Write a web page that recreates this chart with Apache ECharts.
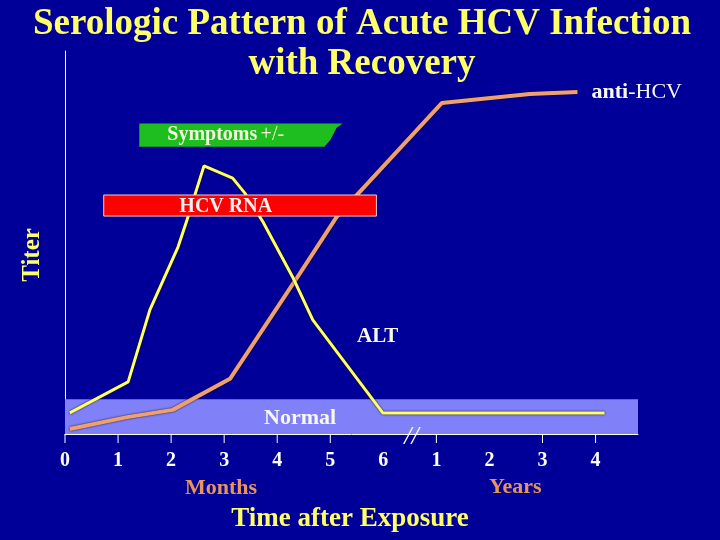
<!DOCTYPE html>
<html>
<head>
<meta charset="utf-8">
<script src="https://cdn.jsdelivr.net/npm/echarts@6/dist/echarts.min.js"></script>
<style>
html,body{margin:0;padding:0;background:#000099;}
#chart{width:720px;height:540px;}
</style>
</head>
<body>
<div id="chart"></div>
<script>
// ---- data ----
const tickLabels = ['0','1','2','3','4','5','6','1','2','3','4'];
const tickPositions = [0,1,2,3,4,5,7,9,10];
const altTime  = [0.09, 1.19, 1.60, 2.13, 2.30, 2.62, 3.16, 3.39, 3.73, 4.29, 4.67, 5.99, 10.17];
const altTiter = [5.5, 13.6, 32.4, 48.8, 55.9, 70.0, 66.8, 62.9, 55.4, 41.0, 29.8, 5.5, 5.5];
const antiTime  = [0.09, 1.17, 2.03, 3.11, 4.43, 5.12, 7.10, 8.76, 9.66];
const antiTiter = [1.3, 4.4, 6.3, 14.4, 42.0, 56.7, 86.4, 88.8, 89.3];
const symptomsTime = [1.40, 5.23];
const symptomsTiter = [75.0, 81.1];
const rnaTime = [0.73, 5.87];
const rnaTiter = [56.9, 62.4];
const normalTime = [0, 10.8];
const normalTiter = [0, 9.1];

const SERIF = "'Liberation Serif','DejaVu Serif',serif";
const chart = echarts.init(document.getElementById('chart'));

function zip(a, b){ return a.map((v,i)=>[v,b[i]]); }

function rectSeries(name, t, v, fill, stroke, z){
  return {
    type:'custom', name, z, silent:true, clip:false,
    data:[[t[0], t[1], v[0], v[1]]],
    renderItem(params, api){
      const p0 = api.coord([api.value(0), api.value(3)]);
      const p1 = api.coord([api.value(1), api.value(2)]);
      return {
        type:'rect',
        shape:{x:p0[0], y:p0[1], width:p1[0]-p0[0], height:p1[1]-p0[1]},
        style:{fill, stroke: stroke || null, lineWidth: stroke ? 1 : 0}
      };
    }
  };
}

const option = {
  backgroundColor:'#000099',
  animation:false,
  grid:{left:65, right:82, top:51, bottom:106},
  xAxis:{
    type:'value', min:0, max:10.8, interval:1,
    axisLine:{show:true, lineStyle:{color:'#ffffff', width:1}},
    axisTick:{show:false},
    splitLine:{show:false},
    axisLabel:{
      showMaxLabel:false,
      color:'#ffffff', fontFamily:SERIF, fontWeight:'bold', fontSize:20, margin:17,
      formatter(v){ return Number.isInteger(v) && tickLabels[v] !== undefined ? tickLabels[v] : ''; }
    }
  },
  yAxis:{
    type:'value', min:0, max:100,
    axisLine:{show:true, lineStyle:{color:'#ffffff', width:1}},
    axisTick:{show:false}, axisLabel:{show:false}, splitLine:{show:false}
  },
  series:[
    rectSeries('Normal', normalTime, normalTiter, '#8080f8', null, 1),
    {
      type:'custom', name:'ticks', silent:true, clip:false, z:3,
      data:tickPositions.map(t=>[t,0]),
      renderItem(params, api){
        const p = api.coord([api.value(0), 0]);
        return {type:'line', shape:{x1:p[0], y1:p[1], x2:p[0], y2:p[1]+9}, style:{stroke:'#ffffff', lineWidth:1}};
      }
    },
    {
      type:'custom', name:'break', silent:true, clip:false, z:3,
      data:[[6.53, 0]],
      renderItem(params, api){
        const p = api.coord([api.value(0), api.value(1)]);
        return {type:'text', style:{x:p[0], y:p[1]+3, text:'//', fill:'#ffffff', font:'italic 26px ' + SERIF, align:'center', verticalAlign:'middle'}};
      }
    },
    {
      type:'line', name:'anti-HCV', data:zip(antiTime, antiTiter), showSymbol:false, symbol:'none', z:4,
      lineStyle:{color:'#f0a070', width:4, shadowColor:'rgba(0,0,0,0.9)', shadowBlur:2},
      endLabel:{show:true, distance:14, formatter:'{b|anti}{n|-HCV}',
        rich:{b:{color:'#f8f8f0', fontFamily:SERIF, fontWeight:'bold', fontSize:22},
              n:{color:'#f8f8f0', fontFamily:SERIF, fontSize:22}}}
    },
    {
      type:'line', name:'ALT', data:zip(altTime, altTiter), showSymbol:false, symbol:'none', z:5,
      lineStyle:{color:'#ffff66', width:3, shadowColor:'rgba(0,0,0,0.9)', shadowBlur:2}
    },
    {
      type:'custom', name:'Symptoms', silent:true, clip:false, z:6,
      data:[[symptomsTime[0], symptomsTime[1], symptomsTiter[0], symptomsTiter[1]]],
      renderItem(params, api){
        const a = api.coord([api.value(0), api.value(3)]);
        const b = api.coord([api.value(1), api.value(2)]);
        const h = b[1]-a[1];
        const pts = [[a[0],a[1]],[b[0],a[1]],[b[0]-6,a[1]+h*0.2],[b[0]-9,a[1]+h*0.45],[b[0]-12,a[1]+h*0.7],[b[0]-18,b[1]],[a[0],b[1]]];
        return {type:'group', children:[
          {type:'polygon', shape:{points:pts}, style:{fill:'#1ebe1e'}},
          {type:'text', style:{x:a[0]+28, y:a[1]+h/2, verticalAlign:'middle', align:'left',
            text:'{b|Symptoms} {n|+/-}',
            rich:{b:{fill:'#f4f4dc', font:'bold 20px ' + SERIF}, n:{fill:'#f4f4dc', font:'20px ' + SERIF}}}}
        ]};
      }
    },
    {
      type:'custom', name:'HCV RNA', silent:true, clip:false, z:6,
      data:[[rnaTime[0], rnaTime[1], rnaTiter[0], rnaTiter[1]]],
      renderItem(params, api){
        const a = api.coord([api.value(0), api.value(3)]);
        const b = api.coord([api.value(1), api.value(2)]);
        return {type:'group', children:[
          {type:'rect', shape:{x:a[0], y:a[1], width:b[0]-a[0], height:b[1]-a[1]}, style:{fill:'#ff0000', stroke:'#ffc8c8', lineWidth:1}},
          {type:'text', style:{x:a[0]+122, y:(a[1]+b[1])/2+1, align:'center', verticalAlign:'middle', text:'HCV RNA', fill:'#f8f0f0', font:'bold 20px ' + SERIF}}
        ]};
      }
    }
  ],
  graphic:[
    {type:'text', x:362, y:4, z:10, style:{text:'Serologic Pattern of Acute HCV Infection\nwith Recovery', fill:'#ffff66', font:'bold 37px ' + SERIF, align:'center', verticalAlign:'top', lineHeight:40}},
    {type:'text', x:33, y:255, rotation:Math.PI/2, style:{text:'Titer', fill:'#ffff66', font:'bold 25px ' + SERIF, align:'center', verticalAlign:'middle'}},
    {type:'text', x:357, y:337, style:{text:'ALT', fill:'#f8f8f0', font:'bold 21px ' + SERIF, verticalAlign:'middle'}},
    {type:'text', x:264, y:418, z:10, style:{text:'Normal', fill:'#f8f8f0', font:'bold 22px ' + SERIF, verticalAlign:'middle'}},
    {type:'text', x:185, y:488, style:{text:'Months', fill:'#e8945a', font:'bold 22px ' + SERIF, verticalAlign:'middle'}},
    {type:'text', x:489, y:487, style:{text:'Years', fill:'#e8945a', font:'bold 22px ' + SERIF, verticalAlign:'middle'}},
    {type:'text', x:350, y:519, style:{text:'Time after Exposure', fill:'#ffff66', font:'bold 27px ' + SERIF, align:'center', verticalAlign:'middle'}}
  ]
};
chart.setOption(option);
</script>
</body>
</html>
